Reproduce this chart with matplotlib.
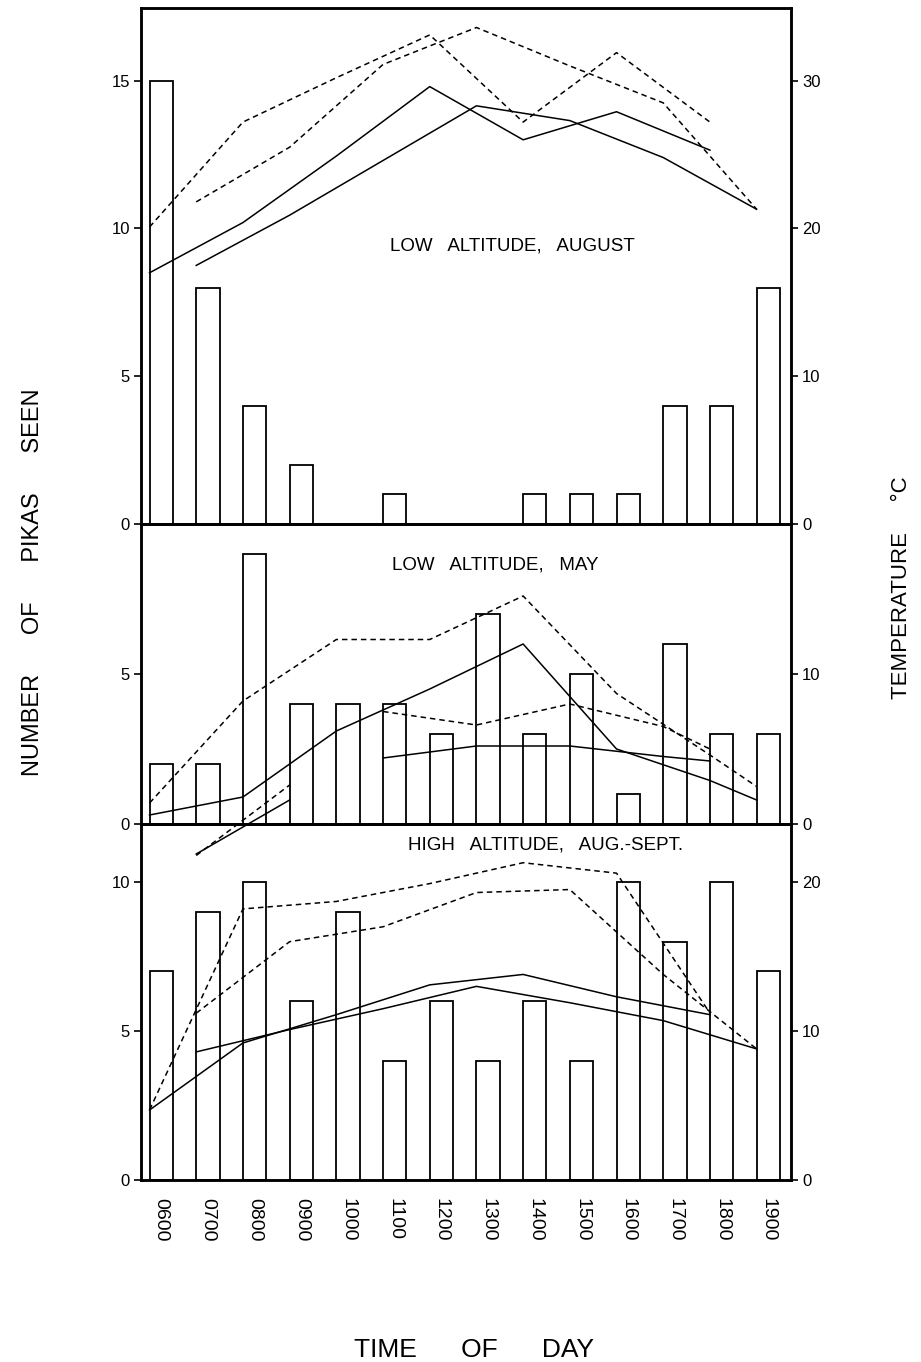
import matplotlib
matplotlib.use("Agg")
import matplotlib.pyplot as plt

plt.rcParams['font.family'] = ['Liberation Sans', 'DejaVu Sans']

# ---------------- data ----------------
hours = [6, 7, 8, 9, 10, 11, 12, 13, 14, 15, 16, 17, 18, 19]
hour_labels = ["0600", "0700", "0800", "0900", "1000", "1100", "1200",
               "1300", "1400", "1500", "1600", "1700", "1800", "1900"]

# number of pikas seen
aug_low_counts = [15, 8, 4, 2, 0, 1, 0, 0, 1, 1, 1, 4, 4, 8]
may_low_counts = [2, 2, 9, 4, 4, 4, 3, 7, 3, 5, 1, 6, 3, 3]
high_counts = [7, 9, 10, 6, 9, 4, 6, 4, 6, 4, 10, 8, 10, 7]

# temperature traces (deg C)
even_hours = [6, 8, 10, 12, 14, 16, 18]
odd_hours = [7, 9, 11, 13, 15, 17, 19]

aug_dash_even = [20.1, 27.2, 30.2, 33.1, 27.2, 31.9, 27.2]
aug_dash_odd = [21.8, 25.5, 31.1, 33.6, 31.0, 28.5, 21.3]
aug_solid_even = [17.0, 20.4, 24.9, 29.6, 26.0, 27.9, 25.3]
aug_solid_odd = [17.5, 20.9, 24.6, 28.3, 27.3, 24.8, 21.3]

may_a_hours = [6, 8, 10, 12, 14, 16, 18, 19]
may_dash_a = [1.4, 8.2, 12.3, 12.3, 15.2, 8.7, 4.6, 2.5]
may_solid_a = [0.6, 1.8, 6.2, 9.0, 12.0, 5.0, 2.9, 1.6]
may_early_hours = [7, 9]
may_dash_early = [-2.1, 2.6]
may_solid_early = [-2.0, 1.6]
may_b_hours = [11, 13, 15, 17, 18]
may_dash_b = [7.5, 6.6, 8.0, 6.5, 5.0]
may_solid_b = [4.4, 5.2, 5.2, 4.5, 4.2]

high_dash_even = [4.7, 18.2, 18.7, 19.9, 21.3, 20.6, 11.2]
high_dash_odd = [11.2, 16.0, 17.0, 19.3, 19.5, 13.8, 8.8]
high_solid_even = [4.7, 9.2, 11.1, 13.1, 13.8, 12.3, 11.1]
high_solid_odd = [8.6, 10.1, 11.5, 13.0, 11.9, 10.7, 8.8]

titles = ["LOW   ALTITUDE,   AUGUST", "LOW   ALTITUDE,   MAY",
          "HIGH   ALTITUDE,   AUG.-SEPT."]

# ---------------- figure ----------------
FW, FH = 921, 1362
fig = plt.figure(figsize=(FW / 100, FH / 100), dpi=100)
fig.patch.set_facecolor("white")

LEFT_PX, RIGHT_PX = 141, 791
DASH = (0, (3.6, 2.6))

panels = [
    dict(top=8, bottom=524, ymax=17.46, lt=[0, 5, 10, 15], rt=[0, 10, 20, 30],
         counts=aug_low_counts, title=titles[0], tpos=(0.572, 0.539),
         lines=[(even_hours, aug_dash_even, DASH), (odd_hours, aug_dash_odd, DASH),
                (even_hours, aug_solid_even, '-'), (odd_hours, aug_solid_odd, '-')]),
    dict(top=524, bottom=824, ymax=10.0, lt=[0, 5], rt=[0, 10],
         counts=may_low_counts, title=titles[1], tpos=(0.545, 0.865),
         lines=[(may_a_hours, may_dash_a, DASH), (may_a_hours, may_solid_a, '-'),
                (may_early_hours, may_dash_early, DASH),
                (may_early_hours, may_solid_early, '-'),
                (may_b_hours, may_dash_b, DASH), (may_b_hours, may_solid_b, '-')]),
    dict(top=824, bottom=1180, ymax=11.95, lt=[0, 5, 10], rt=[0, 10, 20],
         counts=high_counts, title=titles[2], tpos=(0.622, 0.942),
         lines=[(even_hours, high_dash_even, DASH), (odd_hours, high_dash_odd, DASH),
                (even_hours, high_solid_even, '-'), (odd_hours, high_solid_odd, '-')]),
]

for k, p in enumerate(panels):
    rect = [LEFT_PX / FW, 1 - p['bottom'] / FH, (RIGHT_PX - LEFT_PX) / FW,
            (p['bottom'] - p['top']) / FH]
    ax = fig.add_axes(rect)
    ax.patch.set_visible(False)
    ax.bar(hours, p['counts'], width=0.5, align='edge', facecolor='none',
           edgecolor='black', linewidth=1.3, zorder=2)
    ax.set_xlim(5.817, 19.736)
    ax.set_ylim(0, p['ymax'])
    ax.set_yticks(p['lt'])
    ax.set_yticklabels([str(v) for v in p['lt']])
    ax.tick_params(axis='y', direction='out', length=5, width=1.2,
                   labelsize=12, pad=3)
    ax.set_xticks([h + 0.25 for h in hours])
    if k == 2:
        ax.set_xticklabels(hour_labels, rotation=-90, fontsize=14)
        ax.tick_params(axis='x', length=0, pad=13)
    else:
        ax.set_xticklabels([])
        ax.tick_params(axis='x', length=0)
    for s in ax.spines.values():
        s.set_linewidth(1.8)

    tw = ax.twinx()
    tw.patch.set_visible(False)
    tw.set_ylim(0, 2 * p['ymax'])
    tw.set_yticks(p['rt'])
    tw.set_yticklabels([str(v) for v in p['rt']])
    tw.tick_params(axis='y', direction='out', length=5, width=1.2,
                   labelsize=12, pad=3)
    for s in tw.spines.values():
        s.set_linewidth(1.8)

    for xs, ys, ls in p['lines']:
        tw.plot(xs, ys, color='black', linestyle=ls, linewidth=1.1,
                clip_on=False, zorder=3)

    ax.text(p['tpos'][0], p['tpos'][1], p['title'], transform=ax.transAxes,
            ha='center', va='center', fontsize=13.5)

fig.text(33 / FW, 1 - 582 / FH, "NUMBER      OF      PIKAS      SEEN",
         rotation=90, ha='center', va='center', fontsize=17)
fig.text(901 / FW, 1 - 588 / FH, "TEMPERATURE     °C",
         rotation=90, ha='center', va='center', fontsize=16)
fig.text(474 / FW, 1 - 1350 / FH, "TIME      OF      DAY",
         ha='center', va='center', fontsize=19)

fig.savefig("out.png", dpi=100, facecolor="white")
